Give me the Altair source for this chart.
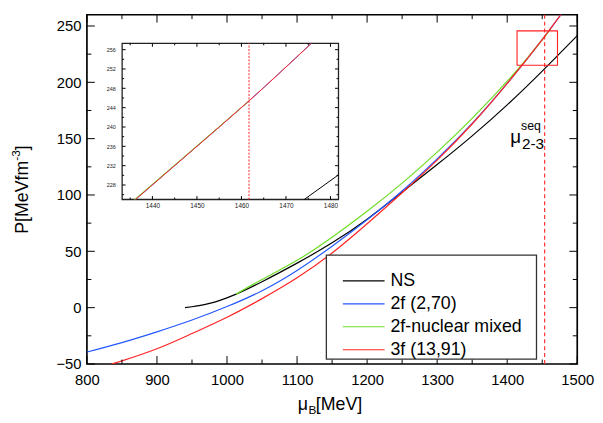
import altair as alt
import pandas as pd

# ---------------- data ----------------
SERIES = ["NS", "2f (2,70)", "2f-nuclear mixed", "3f (13,91)"]
COLORS = ["#000000", "#2358ff", "#6cdc24", "#ff2424"]

NS_X = [940, 950, 960, 975, 990, 1013, 1050, 1100, 1150, 1200, 1250, 1300, 1350, 1400, 1450, 1500]
NS_Y = [0, 0.8, 1.8, 3.8, 6.5, 12.0, 23.0, 39.5, 57.5, 78.5, 102.5, 127.0, 152.5, 180.0, 210.0, 241.5]

F2_X = [800, 850, 900, 950, 1000, 1050, 1100, 1150, 1200, 1250, 1300, 1350, 1400, 1450, 1480]
F2_Y = [-39.4, -31.0, -21.5, -11.0, 1.0, 15.0, 33.0, 54.5, 78.0, 103.5, 132.0, 163.5, 199.0, 238.0, 263.0]

MIX_X = [1013, 1050, 1100, 1150, 1200, 1250, 1300, 1350, 1400, 1440, 1462]
MIX_Y = [12.0, 25.0, 42.0, 62.5, 85.5, 110.5, 138.0, 168.0, 201.0, 230.0, 247.5]

F3_X = [835, 850, 900, 950, 1000, 1050, 1100, 1150, 1200, 1250, 1300, 1350, 1400, 1450, 1480]
F3_Y = [-50.0, -47.2, -36.5, -23.0, -8.5, 8.0, 26.5, 48.5, 74.5, 102.0, 131.0, 163.0, 199.0, 238.0, 263.0]

MU_SEQ = 1453.5                      # dashed line, main panel
ZOOM_BOX = [1414.1, 1471.8, 215.1, 245.7]   # red box (x0, x1, y0, y1)

# inset (zoomed) data
IN_NS_X = [1474.1, 1481.8]
IN_NS_Y = [225.0, 230.1]
IN_F2_X = [1436.2, 1449.0, 1461.7, 1475.7]
IN_F2_Y = [225.0, 235.2, 245.4, 257.3]
IN_MIX_X = [1436.0, 1449.0, 1461.7]
IN_MIX_Y = [225.0, 235.3, 245.4]
IN_F3_X = [1436.2, 1449.0, 1461.7, 1475.7]
IN_F3_Y = [225.0, 235.2, 245.4, 257.3]
IN_MU_SEQ = 1461.7

X_DOMAIN = [800, 1500]
Y_DOMAIN = [-50, 260]
X_TICKS = [800, 900, 1000, 1100, 1200, 1300, 1400, 1500]
X_MINOR = [850, 950, 1050, 1150, 1250, 1350, 1450]
Y_TICKS = [-50, 0, 50, 100, 150, 200, 250]
Y_MINOR = [-25, 25, 75, 125, 175, 225]

IN_X_DOMAIN = [1433.2, 1481.8]
IN_Y_DOMAIN = [225.0, 257.3]
IN_X_TICKS = [1440, 1450, 1460, 1470, 1480]
IN_X_MINOR = [1435, 1445, 1455, 1465, 1475]
IN_Y_TICKS = [228, 232, 236, 240, 244, 248, 252, 256]
IN_Y_MINOR = [226, 230, 234, 238, 242, 246, 250, 254]

# ---------------- layout ----------------
W, H = 497, 354
FONT = "Liberation Sans"
IN_L, IN_R, IN_B, IN_T = 35.7, 255.0, 187.3, 29.0   # inset frame in plot pixels

ONE = pd.DataFrame({"k": [0]})

# ---------------- main panel ----------------
mx = alt.Scale(domain=X_DOMAIN, nice=False, zero=False)
my = alt.Scale(domain=Y_DOMAIN, nice=False, zero=False)
xaxis = alt.Axis(values=X_TICKS, ticks=False, domain=False, grid=False, format="d",
                 labelFontSize=15, labelFont=FONT, labelColor="black", labelPadding=9,
                 labelFlush=False, title=None)
yaxis = alt.Axis(values=Y_TICKS, ticks=False, domain=False, grid=False, format="d",
                 labelFontSize=15, labelFont=FONT, labelColor="black", labelPadding=6,
                 title=None)


def MX(f="x"):
    return alt.X(f"{f}:Q", scale=mx, axis=xaxis)


def MY(f="y"):
    return alt.Y(f"{f}:Q", scale=my, axis=yaxis)


def curve(xs, ys, color, sx, sy, width=1.2, interp="natural"):
    df = pd.DataFrame({"x": xs, "y": ys})
    return alt.Chart(df).mark_line(color=color, strokeWidth=width, clip=True,
                                   interpolate=interp).encode(x=sx("x"), y=sy("y"))


main_layers = [
    curve(NS_X, NS_Y, COLORS[0], MX, MY),
    curve(F2_X, F2_Y, COLORS[1], MX, MY),
    curve(MIX_X, MIX_Y, COLORS[2], MX, MY),
    curve(F3_X, F3_Y, COLORS[3], MX, MY),
]

box_df = pd.DataFrame({"x0": [ZOOM_BOX[0]], "x1": [ZOOM_BOX[1]],
                       "y0": [ZOOM_BOX[2]], "y1": [ZOOM_BOX[3]]})
main_layers.append(
    alt.Chart(box_df).mark_rect(fillOpacity=0, stroke="#ff2020", strokeWidth=1.1).encode(
        x=MX("x0"), x2="x1", y=MY("y0"), y2="y1"))

main_layers.append(
    alt.Chart(pd.DataFrame({"x": [MU_SEQ]})).mark_rule(
        color="#ff2020", strokeWidth=1.1, strokeDash=[4, 3]).encode(x=MX("x")))


def xtick_layer(vals, sx, y0, y1):
    return alt.Chart(pd.DataFrame({"v": vals})).mark_rule(color="black", strokeWidth=1).encode(
        x=sx("v"), y=alt.value(y0), y2=alt.value(y1))


def ytick_layer(vals, sy, x0, x1):
    return alt.Chart(pd.DataFrame({"v": vals})).mark_rule(color="black", strokeWidth=1).encode(
        y=sy("v"), x=alt.value(x0), x2=alt.value(x1))


MAJ, MIN = 8, 4.5
main_layers += [
    xtick_layer(X_TICKS, MX, H, H - MAJ), xtick_layer(X_MINOR, MX, H, H - MIN),
    xtick_layer(X_TICKS, MX, 0, MAJ), xtick_layer(X_MINOR, MX, 0, MIN),
    ytick_layer(Y_TICKS, MY, 0, MAJ), ytick_layer(Y_MINOR, MY, 0, MIN),
    ytick_layer(Y_TICKS, MY, W, W - MAJ), ytick_layer(Y_MINOR, MY, W, W - MIN),
]


def label(text, x, y, size, angle=0, align="left", baseline="alphabetic"):
    kw = dict(text=text, font=FONT, fontSize=size, color="black", align=align, baseline=baseline)
    if angle:
        kw["angle"] = angle
    return alt.Chart(ONE).mark_text(**kw).encode(x=alt.value(x), y=alt.value(y))


# mu^seq_{2-3} annotation
main_layers += [
    label("\u03bc", 429, 130, 19),
    label("seq", 440, 117, 12.5),
    label("2-3", 441, 136.5, 15.5),
]

# axis titles
main_layers += [
    label("P[MeVfm", -65, 222, 18, angle=270, baseline="middle"),
    label("-3", -72, 148, 12, angle=270, baseline="middle"),
    label("]", -65, 137.5, 18, angle=270, baseline="middle"),
    label("\u03bc", 213.7, 401, 18),
    label("B", 224.5, 405, 12),
    label("[MeV]", 232, 401, 18),
]

# legend
LG_L, LG_R, LG_T, LG_B = 242.7, 455.7, 243.7, 349.0
main_layers.append(
    alt.Chart(ONE).mark_rect(fill="white", stroke="#333333", strokeWidth=1.3).encode(
        x=alt.value(LG_L), x2=alt.value(LG_R), y=alt.value(LG_T), y2=alt.value(LG_B)))
for i, (name, col) in enumerate(zip(SERIES, COLORS)):
    ry = 269.7 + i * 23.3
    main_layers.append(
        alt.Chart(ONE).mark_rule(color=col, strokeWidth=1.2).encode(
            x=alt.value(259.4), x2=alt.value(301.7), y=alt.value(ry)))
    main_layers.append(label(name, 307.7, ry, 18, baseline="middle"))

main = alt.layer(*main_layers)

# ---------------- inset ----------------
ix = alt.Scale(domain=IN_X_DOMAIN, range=[IN_L, IN_R], nice=False, zero=False)
iy = alt.Scale(domain=IN_Y_DOMAIN, range=[IN_B, IN_T], nice=False, zero=False)
ixaxis = alt.Axis(orient="bottom", offset=IN_B - H, values=IN_X_TICKS, ticks=False, domain=False,
                  grid=False, format="d", labelFontSize=6.5, labelFont=FONT, labelColor="#222",
                  labelPadding=3.5, labelFlush=False, title=None)
iyaxis = alt.Axis(orient="left", offset=-IN_L, values=IN_Y_TICKS, ticks=False, domain=False,
                  grid=False, format="d", labelFontSize=5.5, labelFont=FONT, labelColor="#222",
                  labelPadding=7, title=None)


def IX(f="x"):
    return alt.X(f"{f}:Q", scale=ix, axis=ixaxis)


def IY(f="y"):
    return alt.Y(f"{f}:Q", scale=iy, axis=iyaxis)


frame_df = pd.DataFrame({"x0": [IN_X_DOMAIN[0]], "x1": [IN_X_DOMAIN[1]],
                         "y0": [IN_Y_DOMAIN[0]], "y1": [IN_Y_DOMAIN[1]]})
inset_layers = [
    alt.Chart(frame_df).mark_rect(fill="white", stroke="#222222", strokeWidth=1.3).encode(
        x=IX("x0"), x2="x1", y=IY("y0"), y2="y1"),
    curve(IN_NS_X, IN_NS_Y, COLORS[0], IX, IY, 1.0, "linear"),
    curve(IN_F2_X, IN_F2_Y, COLORS[1], IX, IY, 1.0, "monotone"),
    curve(IN_MIX_X, IN_MIX_Y, COLORS[2], IX, IY, 1.0, "monotone"),
    curve(IN_F3_X, IN_F3_Y, COLORS[3], IX, IY, 1.0, "monotone"),
    alt.Chart(pd.DataFrame({"x": [IN_MU_SEQ], "y0": [IN_Y_DOMAIN[0]], "y1": [IN_Y_DOMAIN[1]]}))
    .mark_rule(color="#ff2020", strokeWidth=1.0, strokeDash=[2, 1.5])
    .encode(x=IX("x"), y=IY("y0"), y2="y1"),
]
IMAJ, IMIN = 3.5, 2
inset_layers += [
    xtick_layer(IN_X_TICKS, IX, IN_B, IN_B - IMAJ), xtick_layer(IN_X_MINOR, IX, IN_B, IN_B - IMIN),
    xtick_layer(IN_X_TICKS, IX, IN_T, IN_T + IMAJ), xtick_layer(IN_X_MINOR, IX, IN_T, IN_T + IMIN),
    ytick_layer(IN_Y_TICKS, IY, IN_L, IN_L + IMAJ), ytick_layer(IN_Y_MINOR, IY, IN_L, IN_L + IMIN),
    ytick_layer(IN_Y_TICKS, IY, IN_R, IN_R - IMAJ), ytick_layer(IN_Y_MINOR, IY, IN_R, IN_R - IMIN),
]
inset = alt.layer(*inset_layers)

chart = (
    alt.layer(main, inset)
    .resolve_scale(x="independent", y="independent")
    .properties(width=W, height=H, autosize=alt.AutoSizeParams(type="none"),
                padding={"left": 80, "top": 4, "right": 18, "bottom": 56},
                background="white")
    .configure_view(stroke="black", strokeWidth=1.7)
)

chart.save("out.html", embed_options={"renderer": "svg", "actions": False})
